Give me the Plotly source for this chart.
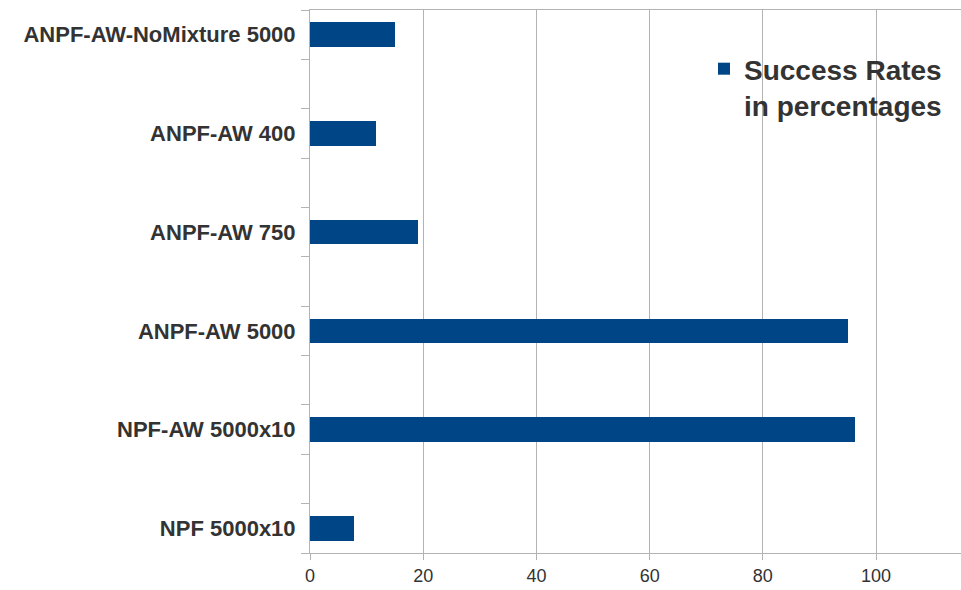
import plotly.graph_objects as go

categories = ["NPF 5000x10", "NPF-AW 5000x10", "ANPF-AW 5000",
              "ANPF-AW 750", "ANPF-AW 400", "ANPF-AW-NoMixture 5000"]
success_rates = [7.7, 96.3, 95.1, 19.1, 11.7, 15.0]
x_ticks = [0, 20, 40, 60, 80, 100]
series_name = "Success Rates<br>in percentages"

positions = list(range(len(categories)))
boundaries = [p - 0.25 for p in positions] + [p + 0.25 for p in positions]

GRID = "#b3b3b3"
TEXT = "#333333"
BLUE = "#004586"
FONT = "Liberation Sans"

fig = go.Figure(go.Bar(
    x=success_rates, y=positions, orientation="h",
    marker=dict(color=BLUE, line=dict(width=0)),
    width=0.25, name=series_name, showlegend=True,
))

fig.update_layout(
    width=961, height=590,
    margin=dict(l=310, r=0, t=10, b=37, autoexpand=False),
    paper_bgcolor="white", plot_bgcolor="white",
    font=dict(family=FONT, color=TEXT),
    legend=dict(
        xref="container", yref="container",
        x=704 / 961, y=1 - 44 / 590, xanchor="left", yanchor="top",
        font=dict(family=FONT, size=28, color=TEXT, weight="bold"),
        valign="top", bgcolor="rgba(0,0,0,0)", itemwidth=30,
    ),
    bargap=0,
)

fig.update_xaxes(
    range=[0, 115], tickvals=x_ticks, ticktext=[str(v) for v in x_ticks],
    showgrid=True, gridcolor=GRID, gridwidth=1,
    showline=True, linecolor=GRID, linewidth=1, mirror=True,
    ticks="outside", ticklen=6, tickcolor=GRID,
    tickfont=dict(family=FONT, size=18, color=TEXT),
    zeroline=False,
)

fig.update_yaxes(
    range=[-0.25, 5.25], tickvals=positions, ticktext=categories,
    ticks="", showgrid=False, zeroline=False,
    showline=True, linecolor=GRID, linewidth=1,
    tickfont=dict(family=FONT, size=22, color=TEXT, weight="bold"),
    ticklabelstandoff=9,
    minor=dict(tickvals=boundaries, ticks="outside", ticklen=8,
               tickcolor=GRID, showgrid=False),
)

fig.write_html("out.html")
